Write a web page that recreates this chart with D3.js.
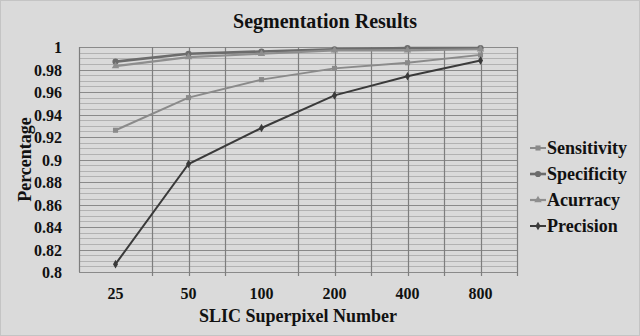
<!DOCTYPE html>
<html>
<head>
<meta charset="utf-8">
<script src="https://cdn.jsdelivr.net/npm/d3@7/dist/d3.min.js"></script>
<style>
  body { margin: 0; background: #dadada; }
  svg { display: block; }
  text { font-family: "Liberation Serif", "Times New Roman", serif; font-weight: bold; fill: #111; }
</style>
</head>
<body>
<svg id="chart" width="640" height="336"></svg>
<script>
// 数据
const categories = ["25", "50", "100", "200", "400", "800"];
const sensitivity = [0.926, 0.955, 0.971, 0.981, 0.986, 0.993];
const specificity = [0.987, 0.994, 0.996, 0.998, 0.999, 0.999];
const accuracy = [0.983, 0.991, 0.994, 0.997, 0.997, 0.998];
const precision = [0.807, 0.896, 0.928, 0.957, 0.974, 0.988];
const yTicks = [0.8, 0.82, 0.84, 0.86, 0.88, 0.9, 0.92, 0.94, 0.96, 0.98, 1];
const seriesNames = ["Sensitivity", "Specificity", "Acurracy", "Precision"];

// 系列样式
const series = [
  { name: seriesNames[0], values: sensitivity, color: "#8a8a8a", width: 2, symbol: d3.symbolSquare, size: 26 },
  { name: seriesNames[1], values: specificity, color: "#6c6c6c", width: 2.6, symbol: d3.symbolCircle, size: 30 },
  { name: seriesNames[2], values: accuracy, color: "#8e8e8e", width: 2.2, symbol: d3.symbolTriangle, size: 24 },
  { name: seriesNames[3], values: precision, color: "#3a3a3a", width: 2, symbol: d3.symbolDiamond, size: 22 }
];

const svg = d3.select("#chart");
const plotLeft = 79, plotRight = 517, plotTop = 47, plotBottom = 272;

const x = d3.scaleBand().domain(categories).range([plotLeft, plotRight]);
const y = d3.scaleLinear().domain([0.8, 1]).range([plotBottom, plotTop]);

// 外框
svg.append("rect").attr("x", 0.5).attr("y", 0.5).attr("width", 639).attr("height", 335)
  .attr("fill", "#dadada").attr("stroke", "#c4c4c4");

// 标题
svg.append("text").attr("x", 325).attr("y", 28).attr("text-anchor", "middle")
  .style("font-size", "20px").text("Segmentation Results");

// 次网格线
const grid = svg.append("g");
grid.selectAll(".minor").data(y.ticks(50)).enter().append("line")
  .attr("x1", plotLeft).attr("x2", plotRight)
  .attr("y1", d => Math.round(y(d)) + 0.5).attr("y2", d => Math.round(y(d)) + 0.5)
  .attr("stroke", "#b2b2b2").attr("stroke-width", 1);

// 主网格线
grid.selectAll(".major").data(yTicks).enter().append("line")
  .attr("x1", plotLeft).attr("x2", plotRight)
  .attr("y1", d => Math.round(y(d)) + 0.5).attr("y2", d => Math.round(y(d)) + 0.5)
  .attr("stroke", "#8a8a8a").attr("stroke-width", 1);

// 竖直网格线：分类边界 + 部分分类中心
const edges = categories.map(c => x(c)).concat([plotRight]);
const centerCats = ["50", "200", "400", "800"];
const vlines = edges.concat(centerCats.map(c => x(c) + x.bandwidth() / 2));
grid.selectAll(".v").data(vlines).enter().append("line")
  .attr("x1", d => Math.round(d) + 0.5).attr("x2", d => Math.round(d) + 0.5)
  .attr("y1", plotTop).attr("y2", d => d === plotLeft ? plotBottom : plotBottom + 4)
  .attr("stroke", "#7e7e7e").attr("stroke-width", 1.2);

// 折线与标记
const line = d3.line()
  .x((d, i) => x(categories[i]) + x.bandwidth() / 2)
  .y(d => y(d));

series.forEach(s => {
  const g = svg.append("g");
  g.append("path").datum(s.values).attr("d", line)
    .attr("fill", "none").attr("stroke", s.color).attr("stroke-width", s.width);
  g.selectAll("path.m").data(s.values).enter().append("path")
    .attr("class", "m")
    .attr("transform", (d, i) => `translate(${x(categories[i]) + x.bandwidth() / 2},${y(d)})`)
    .attr("d", d3.symbol().type(s.symbol).size(s.size))
    .attr("fill", s.color);
});

// y轴
const yAxis = svg.append("g").attr("transform", `translate(${plotLeft - 14},0)`)
  .call(d3.axisLeft(y).tickValues(yTicks).tickSize(0).tickFormat(d => d3.format("")(+d.toFixed(2))));
yAxis.select(".domain").remove();
yAxis.selectAll("text").style("font-size", "16px").style("font-family", "Liberation Serif")
  .attr("fill", "#111").attr("dy", "0.35em");

// x轴
const xAxis = svg.append("g").attr("transform", `translate(0,${plotBottom + 13})`)
  .call(d3.axisBottom(x).tickSize(0));
xAxis.select(".domain").remove();
xAxis.selectAll("text").style("font-size", "16px").style("font-family", "Liberation Serif")
  .attr("fill", "#111");

// 坐标轴标题
svg.append("text").attr("x", (plotLeft + plotRight) / 2).attr("y", 322).attr("text-anchor", "middle")
  .style("font-size", "18px").text("SLIC Superpixel Number");
svg.append("text").attr("transform", `translate(31,${(plotTop + plotBottom) / 2}) rotate(-90)`)
  .attr("text-anchor", "middle").style("font-size", "18px").text("Percentage");

// 图例
const legend = svg.append("g").attr("transform", "translate(530,148)");
series.forEach((s, i) => {
  const row = legend.append("g").attr("transform", `translate(0,${i * 26})`);
  row.append("line").attr("x1", 0).attr("x2", 16).attr("y1", 0).attr("y2", 0)
    .attr("stroke", s.color).attr("stroke-width", s.width);
  row.append("path").attr("transform", "translate(8,0)")
    .attr("d", d3.symbol().type(s.symbol).size(s.size)).attr("fill", s.color);
  row.append("text").attr("x", 17).attr("y", 0).attr("dy", "0.35em")
    .style("font-size", "18px").text(s.name);
});
</script>
</body>
</html>
